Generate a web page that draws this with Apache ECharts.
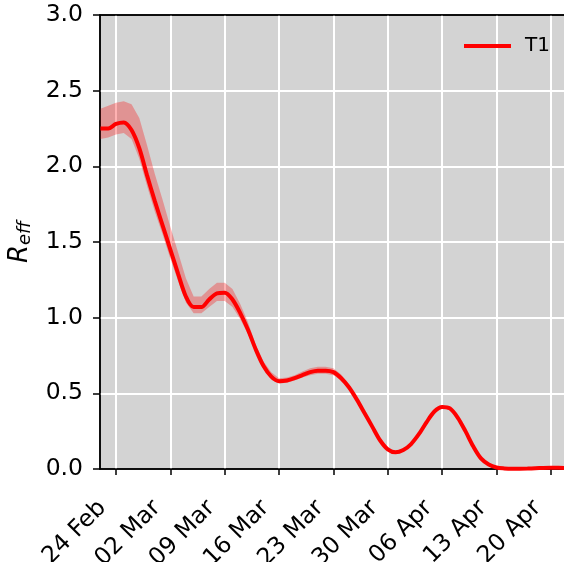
<!DOCTYPE html>
<html>
<head>
<meta charset="utf-8">
<script src="https://cdn.jsdelivr.net/npm/echarts@6/dist/echarts.min.js"></script>
<style>
html,body{margin:0;padding:0;background:#fff;}
#chart{width:564px;height:562px;}
</style>
</head>
<body>
<div id="chart"></div>
<script>
// ---- data ----
const dates = [
 '2020-02-22','2020-02-23','2020-02-24','2020-02-25','2020-02-26','2020-02-27','2020-02-28','2020-02-29',
 '2020-03-01','2020-03-02','2020-03-03','2020-03-04','2020-03-05','2020-03-06','2020-03-07','2020-03-08',
 '2020-03-09','2020-03-10','2020-03-11','2020-03-12','2020-03-13','2020-03-14','2020-03-15','2020-03-16',
 '2020-03-17','2020-03-18','2020-03-19','2020-03-20','2020-03-21','2020-03-22','2020-03-23','2020-03-24',
 '2020-03-25','2020-03-26','2020-03-27','2020-03-28','2020-03-29','2020-03-30','2020-03-31','2020-04-01',
 '2020-04-02','2020-04-03','2020-04-04','2020-04-05','2020-04-06','2020-04-07','2020-04-08','2020-04-09',
 '2020-04-10','2020-04-11','2020-04-12','2020-04-13','2020-04-14','2020-04-15','2020-04-16','2020-04-17',
 '2020-04-18','2020-04-19','2020-04-20','2020-04-21','2020-04-22','2020-04-23'
];
const reffT1 = [
 2.25,2.25,2.28,2.29,2.24,2.12,1.94,1.77,
 1.61,1.45,1.29,1.14,1.07,1.07,1.12,1.16,
 1.165,1.12,1.03,0.92,0.79,0.68,0.61,0.58,
 0.585,0.60,0.62,0.64,0.65,0.65,0.64,0.60,
 0.54,0.46,0.37,0.28,0.19,0.13,0.11,0.125,
 0.165,0.23,0.31,0.38,0.41,0.40,0.34,0.25,
 0.15,0.07,0.03,0.01,0.004,0.002,0.002,0.003,
 0.005,0.007,0.008,0.008,0.007,0.006
];
const lowerT1 = [
 2.18,2.19,2.21,2.22,2.18,2.05,1.87,1.70,
 1.55,1.39,1.24,1.10,1.03,1.03,1.07,1.11,
 1.11,1.07,0.99,0.89,0.77,0.66,0.59,0.565,
 0.57,0.585,0.605,0.62,0.63,0.63,0.62,0.585,
 0.53,0.45,0.36,0.27,0.18,0.12,0.10,0.115,
 0.155,0.22,0.30,0.37,0.40,0.39,0.33,0.24,
 0.14,0.065,0.025,0.007,0.002,0.001,0.001,0.002,
 0.003,0.005,0.006,0.006,0.005,0.004
];
const upperT1 = [
 2.38,2.40,2.42,2.43,2.41,2.32,2.14,1.95,
 1.78,1.60,1.43,1.26,1.14,1.14,1.19,1.23,
 1.23,1.19,1.09,0.97,0.82,0.71,0.64,0.60,
 0.605,0.62,0.645,0.665,0.675,0.675,0.665,0.625,
 0.56,0.47,0.38,0.29,0.20,0.14,0.12,0.135,
 0.175,0.24,0.32,0.39,0.42,0.41,0.35,0.26,
 0.16,0.075,0.035,0.013,0.006,0.004,0.004,0.005,
 0.007,0.009,0.01,0.01,0.009,0.008
];
const tickDates = ['2020-02-24','2020-03-02','2020-03-09','2020-03-16','2020-03-23','2020-03-30','2020-04-06','2020-04-13','2020-04-20'];
const tickLabels = ['24 Feb','02 Mar','09 Mar','16 Mar','23 Mar','30 Mar','06 Apr','13 Apr','20 Apr'];
const yTicks = [0, 0.5, 1.0, 1.5, 2.0, 2.5, 3.0];

// ---- build ----
const DAY = 86400000;
const ts = d => Date.parse(d + 'T00:00:00Z');
const origin = ts('2020-02-24');
const dayOf = d => Math.round((ts(d) - origin) / DAY);
const tickDays = tickDates.map(dayOf);
const xDays = dates.map(dayOf);
const xMin = -2.06;
const xMax = 57.95;
const FONT = 'DejaVu Sans';
const FS = 23.5;

const lineData = xDays.map((x, i) => [x, reffT1[i]]);

function renderBand(params, api) {
  const pts = [];
  for (let i = 0; i < xDays.length; i++) pts.push(api.coord([xDays[i], upperT1[i]]));
  for (let i = xDays.length - 1; i >= 0; i--) pts.push(api.coord([xDays[i], lowerT1[i]]));
  return {
    type: 'polygon',
    shape: {points: pts},
    style: {fill: 'rgba(255,0,0,0.3)', stroke: 'none'},
    silent: true
  };
}

const chart = echarts.init(document.getElementById('chart'), null, {renderer: 'canvas'});
chart.setOption({
  animation: false,
  backgroundColor: '#ffffff',
  grid: {
    left: 100, top: 15, right: -2, bottom: 93,
    outerBoundsMode: 'none', containLabel: false,
    show: true, backgroundColor: '#d3d3d3', borderColor: '#000', borderWidth: 1.5
  },
  legend: {
    show: true,
    data: ['T1'],
    left: 459, top: 31,
    icon: 'rect', itemWidth: 47, itemHeight: 4,
    textStyle: {fontFamily: FONT, fontSize: 20, color: '#000', padding: [0, 0, 0, 9]}
  },
  xAxis: [{
    type: 'value',
    min: xMin, max: xMax,
    axisLine: {show: true, onZero: false, lineStyle: {color: '#000', width: 1.5}},
    axisTick: {show: true, length: 6, lineStyle: {color: '#000', width: 1.5}, customValues: tickDays},
    axisLabel: {
      customValues: tickDays,
      rotate: 45, margin: 22, padding: [0, 19, 0, 0],
      fontFamily: FONT, fontSize: FS, color: '#000',
      formatter: v => { const i = tickDays.indexOf(Math.round(v)); return i >= 0 ? tickLabels[i] : ''; }
    },
    splitLine: {show: true, lineStyle: {color: '#fff', width: 2}}
  }, {
    type: 'value', position: 'top',
    min: xMin, max: xMax,
    axisLine: {show: true, onZero: false, lineStyle: {color: '#000', width: 1.5}},
    axisTick: {show: false}, axisLabel: {show: false}, splitLine: {show: false}
  }],
  yAxis: {
    type: 'value',
    min: 0, max: 3, interval: 0.5,
    name: '{r|R}{s|eff}',
    nameLocation: 'middle', nameGap: 62,
    nameTextStyle: {
      rich: {
        r: {fontFamily: FONT, fontStyle: 'italic', fontSize: 26, color: '#000'},
        s: {fontFamily: FONT, fontStyle: 'italic', fontSize: 18, color: '#000', verticalAlign: 'bottom', padding: [10, 0, 0, 0]}
      }
    },
    axisLine: {show: true, onZero: false, lineStyle: {color: '#000', width: 1.5}},
    axisTick: {show: true, length: 7, lineStyle: {color: '#000', width: 1.5}},
    axisLabel: {
      margin: 17, fontFamily: FONT, fontSize: FS, color: '#000',
      formatter: v => (yTicks.indexOf(v) >= 0 ? v.toFixed(1) : '')
    },
    splitLine: {show: true, showMaxLine: false, showMinLine: false, lineStyle: {color: '#fff', width: 2}}
  },
  series: [
    {
      name: 'band', type: 'custom', data: [[0, 0]], encode: {x: 0, y: 1},
      renderItem: renderBand, clip: true, silent: true, z: 2
    },
    {
      name: 'T1', type: 'line', data: lineData,
      symbol: 'none', smooth: 0.3, color: '#ff0000',
      lineStyle: {color: '#ff0000', width: 4}, z: 3
    }
  ]
});
</script>
</body>
</html>
